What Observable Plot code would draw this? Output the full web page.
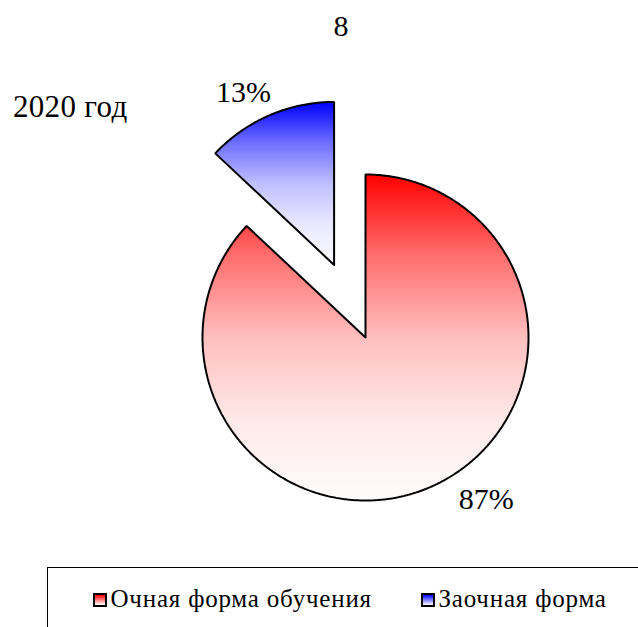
<!DOCTYPE html>
<html><head><meta charset="utf-8">
<script src="https://cdn.jsdelivr.net/npm/d3@7"></script>
<script src="https://cdn.jsdelivr.net/npm/@observablehq/plot@0.6"></script>
<style>
body{margin:0;background:#fff;}
#wrap{position:relative;width:638px;height:627px;overflow:hidden;font-family:"Liberation Serif","Times New Roman",Times,"DejaVu Serif",serif;color:#000;}
#chart{position:absolute;left:0;top:0;}
.t{position:absolute;line-height:1;white-space:nowrap;}
#title{top:11px;left:0;width:682px;text-align:center;font-size:30px;}
#sub{top:91px;left:13px;font-size:31px;letter-spacing:0.3px;}
#legend{position:absolute;left:47px;top:567px;width:620px;height:80px;border:1.5px solid #000;box-sizing:border-box;}
.li{position:absolute;top:18px;font-size:25px;line-height:1;white-space:nowrap;letter-spacing:0.8px;}
.sw{display:inline-block;width:10px;height:10px;border:2px solid #000;margin-right:4px;}
</style></head>
<body><div id="wrap"><div id="chart"></div>
<div class="t" id="title"></div><div class="t" id="sub"></div>
<div id="legend"></div></div>
<script>
const categories = ["Очная форма обучения", "Заочная форма"];
const shares = [87, 13];
const valueLabels = ["87%", "13%"];
const chartTitle = "8";
const yearLabel = "2020 год";
const colors = ["#FF0000", "#0000FF"];

document.getElementById("title").textContent = chartTitle;
document.getElementById("sub").textContent = yearLabel;

const serif = '"Liberation Serif","Times New Roman",Times,"DejaVu Serif",serif';
const explode = [0, 0.485];
const total = d3.sum(shares);
let acc = 0;
const slices = shares.map((v, i) => {
  const a0 = acc / total * 2 * Math.PI; acc += v;
  const a1 = acc / total * 2 * Math.PI;
  return {i, a0, a1, mid: (a0 + a1) / 2, ox: explode[i] * Math.sin((a0 + a1) / 2), oy: explode[i] * Math.cos((a0 + a1) / 2)};
});
const pts = [];
slices.forEach(s => {
  pts.push({slice: s.i, x: s.ox, y: s.oy});
  const n = Math.max(2, Math.ceil((s.a1 - s.a0) / (Math.PI / 360)));
  for (let k = 0; k <= n; k++) {
    const a = s.a0 + (s.a1 - s.a0) * k / n;
    pts.push({slice: s.i, x: s.ox + Math.sin(a), y: s.oy + Math.cos(a)});
  }
  pts.push({slice: s.i, x: s.ox, y: s.oy});
});
const lab = slices.map(s => ({x: s.ox + 1.2 * Math.sin(s.mid), y: s.oy + 1.2 * Math.cos(s.mid), text: valueLabels[s.i]}));

// gradient shape (fraction of white mixed in at each stop)
const gradStops = [[0, 0], [0.25, 0.43], [0.5, 0.75], [0.75, 0.91], [1, 0.99]];
const defs = () => {
  const d = d3.create("svg:defs");
  colors.forEach((c, i) => {
    const g = d.append("linearGradient").attr("id", "g" + i).attr("x1", 0).attr("y1", 0).attr("x2", 0).attr("y2", 1);
    gradStops.forEach(([o, w]) => g.append("stop").attr("offset", o).attr("stop-color", d3.interpolateRgb(c, "#fff")(w)));
  });
  return d.node();
};

const labelOffsets = [[43, -18], [-13, 7]];
const plot = Plot.plot({
  width: 638, height: 560,
  x: {domain: [-1, 1], range: [202, 528], axis: null},
  y: {domain: [-1, 1], range: [500, 174], axis: null},
  marks: [
    defs,
    ...slices.map(s => Plot.line(pts.filter(p => p.slice === s.i), {x: "x", y: "y", fill: `url(#g${s.i})`, stroke: "#000", strokeWidth: 2, strokeLinejoin: "miter"})),
    ...slices.map(s => Plot.text([lab[s.i]], {x: "x", y: "y", text: "text", fontSize: 30, fontFamily: serif, fill: "#000", dx: labelOffsets[s.i][0], dy: labelOffsets[s.i][1]}))
  ]
});
document.getElementById("chart").appendChild(plot);

const leg = document.getElementById("legend");
const lx = [44.5, 372.5];
categories.forEach((c, i) => {
  const el = document.createElement("div");
  el.className = "li";
  el.style.left = lx[i] + "px";
  const sw = document.createElement("span");
  sw.className = "sw";
  sw.style.background = `linear-gradient(to bottom, ${colors[i]}, #fff)`;
  el.appendChild(sw);
  el.appendChild(document.createTextNode(c));
  leg.appendChild(el);
});
</script></body></html>
